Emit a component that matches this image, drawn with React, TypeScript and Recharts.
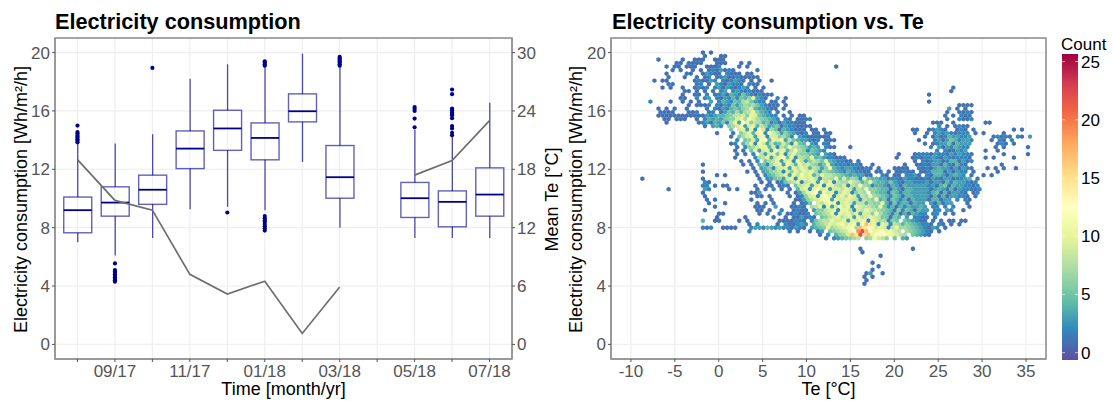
import React from 'react';
import {
  ComposedChart, ScatterChart, Bar, Line, Scatter, XAxis, YAxis, CartesianGrid, ReferenceArea,
} from 'recharts';

// Left panel: monthly boxplots (month 9 = 04/18 has no data)
const months = [1, 2, 3, 4, 5, 6, 7, 8, 9, 10, 11, 12];
const monthLabels = ['', '09/17', '', '11/17', '', '01/18', '', '03/18', '', '05/18', '', '07/18'];
const whiskerLow = [7.0, 6.1, 7.3, 9.27, 9.43, 9.2, 12.5, 8.0, null, 7.3, 7.3, 7.3];
const quartile1 = [7.65, 8.79, 9.6, 12.05, 13.3, 12.65, 15.25, 10.02, null, 8.7, 8.06, 8.79];
const medians = [9.2, 9.72, 10.6, 13.42, 14.8, 14.15, 15.98, 11.46, null, 10.02, 9.77, 10.27];
const quartile3 = [10.1, 10.8, 11.6, 14.63, 16.05, 15.18, 17.17, 13.63, null, 11.1, 10.52, 12.1];
const whiskerHigh = [13.8, 13.77, 14.4, 18.2, 19.2, 19.0, 19.93, 19.0, null, 14.7, 14.3, 16.57];
const meanTe = [19.0, 14.8, 13.8, 7.2, 5.17, 6.5, 1.13, 5.9, null, 17.4, 18.9, 23.0];

const outlierValues: [number, number[]][] = [
  [1, [15.0, 14.55, 14.45, 14.35, 14.25, 14.15, 14.05, 13.95, 13.85]],
  [2, [5.55, 5.1, 5.0, 4.9, 4.8, 4.7, 4.6, 4.5, 4.4, 4.3]],
  [3, [18.95]],
  [5, [9.04]],
  [6, [19.4, 19.3, 19.2, 19.1, 8.8, 8.65, 8.5, 8.4, 8.25, 8.1, 7.95, 7.8]],
  [8, [19.7, 19.6, 19.5, 19.4, 19.3, 19.2, 19.1]],
  [10, [16.27, 16.15, 16.0, 15.48, 14.88]],
  [11, [17.47, 17.15, 16.16, 16.05, 15.9, 15.8, 15.7, 15.5, 14.97, 14.8, 14.5, 14.33]],
];

const yTicks = [0, 4, 8, 12, 16, 20];
const teTicks = [0, 6, 12, 18, 24, 30];
const hexXTicks = [-10, -5, 0, 5, 10, 15, 20, 25, 30, 35];
const countTicks = [0, 5, 10, 15, 20, 25];

// Hexbin counts, one string per hex row from Wh=20 downwards.
// Base-36 digit = count, '.' = empty. Spaces just group every 10 columns.
const hexTeStart = -8.7;
const hexTeStep = 0.46;
const hexWhTop = 20;
const hexWhStep = 0.24;
const hexRows = [
  '.......... .....1.1..',
  '.......... .....1...1 1',
  '....1..... 1..111..11 1',
  '........11 .1111...11 1...1.1',
  '......1.11 .111..1112 ....1.1... .......... ........1',
  '.......1.1 ..1.1.1213 121.....1',
  '......1... .11..13211 .2111.11',
  '......1... 1..1.12.12 311211111',
  '...1.11... ...121132. 212321.1.1 ..1',
  '......11.. ...12.1.32 13221.211',
  '.....1.1.. 1..1212.23 1321232.1. 1......... .......... .......... .......... .......1',
  '.......... 11.1.1.1.2 3.23212111 .......... .......... .......... .......... ......1',
  '.......... 1..11.2.12 3143253212 111....... .......... .......... .......... .1',
  '.........1 1..2.23.21 3242546a32 1..2.1',
  '..2....1.. 1.1.1..3.2 4325478532 2.11.1.... .......... .......... .......... .1',
  '.......... .1.1112.21 3253576753 2111.1.... .......... .......... .......... ........11 11',
  '....1.1.1. .1....1.21 3245467943 3211.1.... .......... .......... .......... ......3.1. 1',
  '....1111.. .112..12.1 3547478a64 32.1..1... .......... .......... .......... .....1..11 21',
  '....111111 1111113234 4568896a95 4322.1.1.1 1......... .......... .......... .....1.1.2 11',
  '.....11.11 1..1.24343 5669a7b976 5432.21.11 12........ .......... .......... .....1..21 12',
  '......1... ....123143 527a3da687 4523132211 1......... .......... .......... ..111..1.. .....11',
  '.......... .....1.342 .679b39a48 6345132211 11........ .......... .......... ...2.1.121 1',
  '.......... .......... ..5.9a3a2c 9275143211 1.11.1.... .......... .......11. .12321..12 1.1....... ..1.1',
  '.......... ........1. ..1.68a4ac 2b97364321 2.11.11... .......... .......1.. 1.23232122 2.1.1....1',
  '.......... .......... ..1.579a3a b2996752.3 2111111... .......... .......... 1.13124332 23.....121 21.21.3',
  '.......... .......... ...2.5693b c4a9b38543 3212.111.. .......... ........1. ..23135423 32....1.21 .2',
  '.......... .......... ..12.47a2b 93845962a5 4.32.21... .......... .......... 1.12335143 33......12 1.1',
  '.......... .......... ...1.2679a a49286b876 5343.211.. .1........ .......... .2.3132432 2......1.1 .....1',
  '.......... .......... ...1.1.5a3 9a3c9a48b7 625432.... .......... .......... ...2.21132 3....1..1.',
  '.......... .......... ...1.1.2.8 39a5a28a76 6543.321.. .......... ...1...122 2132213232 21.......1 .....1',
  '.......... .......... ...1....27 8a39bc5a28 76a4532211 1......... ...1...121 2232132122 21...1.1.. ..1',
  '.......... .......... ....1.1.2. 578a39a2a8 36875a4322 11.1...... .......1.2 1233124413 12........',
  '.......... .....1.... .....1.1.4 5279a3b94a 897635a322 21221..1.. .....1..11 2133142142 1........1',
  '.......... .......... .......1.3 46289a3a8a 948736b432 3321121.1. ..1111..21 2134331313 21...1.1.1 ..1',
  '.......... .....1.... ......1.1. 34678296a8 a9a7376543 2432211.11 .1.11211.1 1244413132 2.1.....1.',
  '.......... ........1. 1.......1. 24578a3a8b 9a47a88765 4343311..2 1.11.2231. 2144313432 .1..1.1...',
  '1......... .....1.... .........1 .235639a2a a9a82887b5 95762a5443 3122132211 2132133122 34.1',
  '.......... .....21... .........1 .1.12578a2 89a3a8a287 7a8746a544 3532133222 3133142433 212.',
  '.......... .....22.1. 11......1. .11.121.58 9a39b2aa87 9287b76244 3143143333 3231451433 2212',
  '......1... .....32... .1.1....1. 1.2.1.1.49 a2ac9a3998 a9387b6654 4143144333 3134314132 2112',
  '.......... .....1.... .......113 ......1.13 7abc3b9a28 a92687.654 4154244333 3245141332 1.12',
  '.......... .....1.... ........11 .1....1.12 69a2bca29a 8a9387b765 4254144333 3141413322 1.1',
  '.......... ......1.1. .......1.. ..1.....11 3689abc3a9 9a982876b4 5154241433 3144133.2. 21',
  '.......... ......1... 1.......1. 1.1....1.1 25.98abb29 a93884766a 4152441433 .314133... 1',
  '.......... ........1. ........11 1..3...112 1.78a2a39b 9a2a98876a 5241424334 3.22.2.2.. .1',
  '.......... .....1.... ........11 .1..2..121 1.36689a2a a8298a9876 5416254143 3.22.32..1',
  '.......... .........1 1........1 .1..2.1121 12.5678a2a 9a8a3996b7 5425141432 2.22.1.1',
  '.......... ........1. .....1.... ..1..1.113 121.5689a8 9a3a89a985 5154.3.221 1.1',
  '.......... .....4..11 ....1.1... ....111122 1.25788a99 a3a9ab2a97 7265.54321 1.1.1.11.1 1',
  '.......... .......... ......1.2. ...1.21123 2.4678a9ab 9ab3chfa2a 9287465432 21.21.1.1.',
  '.......... .....212.. 1111...233 2432322132 1.3456a789 abc7hfcb9a 928a776543 2132.1',
  '.......... .......... ......2... ......1.1. .1.23.5678 9bcjmhcabc ab98.76543 21.1',
  '.......... .......... .......... .......... ....1.2.46 79hfmfhacd cba987.543 21',
  '.......... .......... .......... .......... .....1.234 5678.67b98 6.5.43',
  '',
  '',
  '.......... .......... .......... .......... .......... ....1..... .......1',
  '.......... .......... .......... .......... .......... ....1',
  '.......... .......... .......... .......... .......... .........1',
  '',
  '.......... .......... .......... .......... .......... .......1',
  '.......... .......... .......... .......... .......... ........1',
  '.......... .......... .......... .......... .......... .......1',
  '.......... .......... .......... .......... .......... .....13..1',
  '.......... .......... .......... .......... .......... .....1.1',
  '.......... .......... .......... .......... .......... .....1',
  '.......... .......... .......... .......... .......... .....1',
];

const spectral = ['#5e4fa2', '#3288bd', '#66c2a5', '#abdda4', '#e6f598', '#ffffbf', '#fee08b', '#fdae61', '#f46d43', '#d53e4f', '#9e0142'];
const countMin = -0.63;
const countMax = 25.65;

const boxRows = months.map((month, i) => ({
  month,
  low: whiskerLow[i],
  q1: quartile1[i],
  median: medians[i],
  q3: quartile3[i],
  high: whiskerHigh[i],
  te: meanTe[i],
}));

const outlierPoints = outlierValues.flatMap(([month, values]) => values.map((wh) => ({ month, wh })));

const hexCells = hexRows.flatMap((row, k) =>
  row.replace(/ /g, '').split('').flatMap((ch, i) =>
    ch === '.'
      ? []
      : [{
          te: hexTeStart + hexTeStep * (i + (k % 2) * 0.5),
          wh: hexWhTop - hexWhStep * k,
          count: parseInt(ch, 36),
        }],
  ),
);

const hexColor = (count: number) => {
  const t = ((count - countMin) / (countMax - countMin)) * (spectral.length - 1);
  const i = Math.min(Math.floor(t), spectral.length - 2);
  const f = t - i;
  const ch = (hex: string, p: number) => parseInt(hex.slice(p, p + 2), 16);
  const mix = (p: number) => Math.round(ch(spectral[i], p) * (1 - f) + ch(spectral[i + 1], p) * f);
  return `rgb(${mix(1)},${mix(3)},${mix(5)})`;
};

const HexShape = (props: any) => {
  const { cx, cy, payload } = props;
  const r = 2.45;
  const w = r * 0.866;
  const pts = [
    [cx, cy - r], [cx + w, cy - r / 2], [cx + w, cy + r / 2],
    [cx, cy + r], [cx - w, cy + r / 2], [cx - w, cy - r / 2],
  ].map((p) => p.join(',')).join(' ');
  return <polygon points={pts} fill={hexColor(payload.count)} />;
};

// The bar spans the whisker range, so the other values are placed inside it
const BoxShape = (props: any) => {
  const { x, y, width, height, payload } = props;
  if (payload.low == null) return null;
  const top = Math.min(y, y + height);
  const span = Math.abs(height);
  const at = (v: number) => top + ((payload.high - v) / (payload.high - payload.low)) * span;
  const cx = x + width / 2;
  const color = '#00008b';
  return (
    <g>
      <line x1={cx} x2={cx} y1={at(payload.high)} y2={at(payload.q3)} stroke={color} strokeOpacity={0.7} strokeWidth={1.3} />
      <line x1={cx} x2={cx} y1={at(payload.q1)} y2={at(payload.low)} stroke={color} strokeOpacity={0.7} strokeWidth={1.3} />
      <rect x={x} y={at(payload.q3)} width={width} height={at(payload.q1) - at(payload.q3)} fill="none" stroke={color} strokeOpacity={0.62} strokeWidth={1.4} />
      <line x1={x} x2={x + width} y1={at(payload.median)} y2={at(payload.median)} stroke={color} strokeWidth={1.8} />
    </g>
  );
};

const OutlierDot = (props: any) => <circle cx={props.cx} cy={props.cy} r={2.1} fill="#00008b" />;

const FONT = 'Liberation Sans, Arial, sans-serif';
const tickStyle = { fill: '#555555', fontSize: 17, fontFamily: FONT };
const axisColor = '#8c8c8c';
const gridColor = '#efefef';
const titleStyle: React.CSSProperties = {
  position: 'absolute', top: 9, fontFamily: FONT, fontWeight: 700, fontSize: 21.7, lineHeight: '26px', color: '#000', whiteSpace: 'nowrap',
};
const axisTitle = { fill: '#000', fontSize: 18, fontFamily: FONT };

const App = () => (
  <div style={{ position: 'absolute', left: 0, top: 0, width: 1113, height: 401, background: '#fff', overflow: 'hidden' }}>
    <div style={{ ...titleStyle, left: 55 }}>Electricity consumption</div>
    <div style={{ ...titleStyle, left: 612 }}>Electricity consumption vs. Te</div>

    <div style={{ position: 'absolute', left: 0, top: 0 }}>
      <ComposedChart width={575} height={401} data={boxRows} margin={{ top: 38, right: 15, bottom: 0, left: 0 }}>
        <CartesianGrid stroke={gridColor} strokeWidth={1.2} yAxisId="wh" />
        <XAxis
          dataKey="month" type="number" domain={[0.4, 12.6]} ticks={months} interval={0} height={42}
          tickFormatter={(m: number) => monthLabels[m - 1]} tick={tickStyle} tickSize={3}
          stroke={axisColor} tickLine={{ stroke: '#555' }} tickMargin={3}
          label={{ value: 'Time [month/yr]', position: 'center', dy: 9, style: axisTitle }}
        />
        <YAxis
          yAxisId="wh" type="number" domain={[-1, 21]} ticks={yTicks} interval={0} width={55}
          tick={tickStyle} tickSize={3} stroke={axisColor} tickLine={{ stroke: '#555' }} tickMargin={2}
          label={{ value: 'Electricity consumption [Wh/m²/h]', angle: -90, position: 'center', dx: -7, dy: 1, style: axisTitle }}
        />
        <YAxis
          yAxisId="te" orientation="right" type="number" domain={[-1.5, 31.5]} ticks={teTicks} interval={0} width={48}
          tick={tickStyle} tickSize={3} stroke={axisColor} tickLine={{ stroke: '#555' }} tickMargin={2}
          label={{ value: 'Mean Te [°C]', angle: -90, position: 'center', dx: 16, dy: 1, style: axisTitle }}
        />
        <ReferenceArea yAxisId="wh" x1={0.4} x2={12.6} y1={-1} y2={21} fill="none" stroke={axisColor} strokeWidth={1.5} />
        <Bar yAxisId="wh" dataKey={(d: any) => (d.low == null ? null : [d.low, d.high])} barSize={28} shape={BoxShape} isAnimationActive={false} />
        <Scatter yAxisId="wh" data={outlierPoints} dataKey="wh" shape={OutlierDot} isAnimationActive={false} />
        <Line yAxisId="te" type="linear" dataKey="te" stroke="#6e6e6e" strokeWidth={1.7} dot={false} isAnimationActive={false} />
      </ComposedChart>
    </div>

    <div style={{ position: 'absolute', left: 560, top: 0 }}>
      <ScatterChart width={490} height={401} margin={{ top: 38, right: 4, bottom: 0, left: 0 }}>
        <CartesianGrid stroke={gridColor} strokeWidth={1.2} />
        <XAxis
          dataKey="te" type="number" domain={[-12.27, 37.28]} ticks={hexXTicks} interval={0} height={42}
          tick={tickStyle} tickSize={3} stroke={axisColor} tickLine={{ stroke: '#555' }} tickMargin={3}
          label={{ value: 'Te [°C]', position: 'center', dy: 9, style: axisTitle }}
        />
        <YAxis
          dataKey="wh" type="number" domain={[-1, 21]} ticks={yTicks} interval={0} width={51}
          tick={tickStyle} tickSize={3} stroke={axisColor} tickLine={{ stroke: '#555' }} tickMargin={2}
          label={{ value: 'Electricity consumption [Wh/m²/h]', angle: -90, position: 'center', dx: -10, dy: 1, style: axisTitle }}
        />
        <ReferenceArea x1={-12.27} x2={37.28} y1={-1} y2={21} fill="none" stroke={axisColor} strokeWidth={1.5} />
        <Scatter data={hexCells} shape={HexShape} isAnimationActive={false} />
      </ScatterChart>
    </div>

    <div style={{ position: 'absolute', left: 1061, top: 35, fontFamily: FONT, fontSize: 17, lineHeight: '20px', color: '#000' }}>Count</div>
    <svg style={{ position: 'absolute', left: 1060, top: 50 }} width={53} height={320}>
      <defs>
        <linearGradient id="countBar" x1="0" y1="1" x2="0" y2="0">
          {spectral.map((c, i) => <stop key={c} offset={`${(i / (spectral.length - 1)) * 100}%`} stopColor={c} />)}
        </linearGradient>
      </defs>
      <rect x={2} y={4} width={16} height={306} fill="url(#countBar)" />
      {countTicks.map((c) => {
        const y = 4 + ((countMax - c) / (countMax - countMin)) * 306;
        return (
          <g key={c}>
            <line x1={2} x2={5} y1={y} y2={y} stroke="#fff" strokeOpacity={0.6} />
            <line x1={15} x2={18} y1={y} y2={y} stroke="#fff" strokeOpacity={0.6} />
            <text x={21} y={y + 6} fontFamily={FONT} fontSize={17} fill="#000">{c}</text>
          </g>
        );
      })}
    </svg>
  </div>
);

export default App;
